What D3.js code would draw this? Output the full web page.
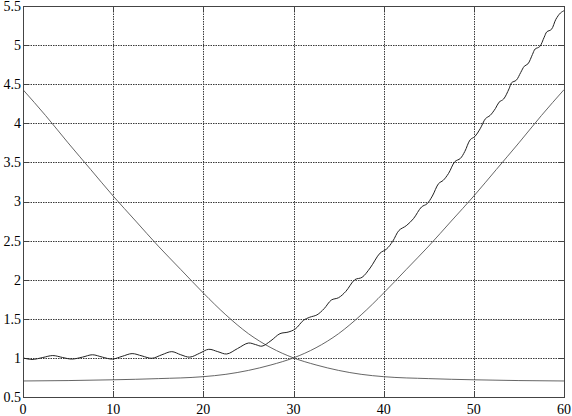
<!DOCTYPE html>
<html>
    <head>
        <meta charset="UTF-8">
        <title>Three curves</title>
        <style>
            body {
                margin: 0;
                background-color: #ffffff;
            }
            svg {
                display: block;
            }
            .grid line {
                stroke: #3a3a3a;
                stroke-width: 1px;
                stroke-dasharray: 1.5,1;
            }
            .frame {
                fill: none;
                stroke: #444;
                stroke-width: 1px;
            }
            .tick-mark {
                stroke: #444;
                stroke-width: 1px;
            }
            .label {
                font-family: 'Liberation Serif', 'Times New Roman', Times, serif;
                font-size: 14px;
                fill: #000;
            }
            .curve {
                fill: none;
                stroke: #555;
                stroke-width: 0.9px;
            }
            .wavy {
                fill: none;
                stroke: #222;
                stroke-width: 1px;
            }
        </style>
    </head>
    <body>
        <div id="chart"></div>
        <script src="https://d3js.org/d3.v7.min.js"></script>
        <script>
            // data
            const xTicks = [0, 10, 20, 30, 40, 50, 60];
            const yTicks = [0.5, 1, 1.5, 2, 2.5, 3, 3.5, 4, 4.5, 5, 5.5];
            const yTickLabels = ["0.5", "1", "1.5", "2", "2.5", "3", "3.5", "4", "4.5", "5", "5.5"];

            // falling curve
            const fallX = [0, 2.5, 5, 7.5, 10, 12.5, 15, 17.5, 20, 22.5, 25, 27.5, 30, 32.5, 35, 37.5, 40, 45, 50, 55, 60];
            const fallY = [4.43, 4.1, 3.75, 3.41, 3.07, 2.75, 2.43, 2.13, 1.83, 1.55, 1.31, 1.13, 1.0, 0.91, 0.84, 0.79, 0.76, 0.735, 0.72, 0.71, 0.705];

            // rising curve
            const riseX = [0, 5, 10, 15, 20, 22.5, 25, 27.5, 30, 32.5, 35, 37.5, 40, 42.5, 45, 47.5, 50, 52.5, 55, 57.5, 60];
            const riseY = [0.705, 0.71, 0.72, 0.735, 0.76, 0.79, 0.84, 0.91, 1.0, 1.13, 1.31, 1.55, 1.83, 2.13, 2.43, 2.75, 3.07, 3.41, 3.75, 4.1, 4.43];

            // wavy curve
            const waveX = [0, 1.0, 2.2, 3.3, 4.4, 5.4, 6.6, 7.7, 8.8, 9.9, 11.0, 12.1, 13.2, 14.3, 15.4, 16.5, 17.5, 18.5,
                19.6, 20.6, 21.6, 22.6, 23.8, 25.0, 25.8, 26.5, 27.5, 28.5, 29.4, 30.2, 31.1, 31.8, 32.6, 33.4, 34.2, 35.0,
                35.8, 36.8, 37.6, 38.5, 39.6, 40.3, 41.0, 41.7, 42.5, 43.3, 44.2, 44.8, 45.4, 46.1, 46.6, 47.2, 47.9, 48.5,
                49.0, 49.6, 50.1, 50.7, 51.3, 51.8, 52.4, 52.8, 53.3, 53.9, 54.2, 54.7, 55.2, 55.6, 56.0, 56.5, 56.8, 57.3,
                57.8, 58.1, 58.6, 59.1, 59.6, 60];
            const waveY = [1.0, 0.98, 1.005, 1.03, 1.005, 0.985, 1.01, 1.04, 1.01, 0.985, 1.02, 1.055, 1.025, 0.995, 1.04, 1.08, 1.04, 1.01,
                1.06, 1.11, 1.08, 1.05, 1.12, 1.19, 1.17, 1.15, 1.22, 1.31, 1.33, 1.37, 1.48, 1.52, 1.55, 1.63, 1.74, 1.77,
                1.85, 2.0, 2.03, 2.15, 2.34, 2.39, 2.49, 2.63, 2.69, 2.78, 2.93, 2.97, 3.07, 3.23, 3.27, 3.36, 3.51, 3.55,
                3.64, 3.79, 3.83, 3.93, 4.06, 4.1, 4.19, 4.27, 4.31, 4.44, 4.52, 4.55, 4.65, 4.73, 4.76, 4.88, 4.95, 4.98,
                5.1, 5.17, 5.2, 5.33, 5.41, 5.44];

            const width = 572;
            const height = 416;
            const margin = {top: 6, right: 8, bottom: 19, left: 23};

            const svg = d3.select("#chart").append("svg")
                .attr("width", width)
                .attr("height", height);

            const x = d3.scaleLinear().domain([0, 60]).range([margin.left, width - margin.right]);
            const y = d3.scaleLinear().domain([0.5, 5.5]).range([height - margin.bottom, margin.top]);

            svg.append("defs").append("clipPath").attr("id", "plot")
                .append("rect")
                .attr("x", x(0)).attr("y", y(5.5))
                .attr("width", x(60) - x(0)).attr("height", y(0.5) - y(5.5));

            // grid
            const grid = svg.append("g").attr("class", "grid");
            grid.selectAll(".vx")
                .data(xTicks.slice(1, -1))
                .enter().append("line")
                .attr("x1", d => Math.round(x(d)) + 0.5)
                .attr("x2", d => Math.round(x(d)) + 0.5)
                .attr("y1", y(5.5))
                .attr("y2", y(0.5));
            grid.selectAll(".hy")
                .data(yTicks.slice(1, -1))
                .enter().append("line")
                .attr("x1", x(0))
                .attr("x2", x(60))
                .attr("y1", d => Math.round(y(d)) + 0.5)
                .attr("y2", d => Math.round(y(d)) + 0.5);

            // inward tick marks
            const tk = 5;
            const ticks = svg.append("g");
            yTicks.forEach(v => {
                const yy = Math.round(y(v)) + 0.5;
                ticks.append("line").attr("class", "tick-mark")
                    .attr("x1", x(0)).attr("x2", x(0) + tk).attr("y1", yy).attr("y2", yy);
                ticks.append("line").attr("class", "tick-mark")
                    .attr("x1", x(60)).attr("x2", x(60) - tk).attr("y1", yy).attr("y2", yy);
            });
            xTicks.forEach(v => {
                const xx = Math.round(x(v)) + 0.5;
                ticks.append("line").attr("class", "tick-mark")
                    .attr("x1", xx).attr("x2", xx).attr("y1", y(0.5)).attr("y2", y(0.5) - tk);
                ticks.append("line").attr("class", "tick-mark")
                    .attr("x1", xx).attr("x2", xx).attr("y1", y(5.5)).attr("y2", y(5.5) + tk);
            });

            // curves
            const curves = svg.append("g").attr("clip-path", "url(#plot)");
            const smooth = d3.line()
                .x(d => x(d[0]))
                .y(d => y(d[1]))
                .curve(d3.curveMonotoneX);
            const wave = d3.line()
                .x(d => x(d[0]))
                .y(d => y(d[1]))
                .curve(d3.curveCatmullRom.alpha(0.5));

            curves.append("path").attr("class", "curve")
                .attr("d", smooth(d3.zip(fallX, fallY)));
            curves.append("path").attr("class", "curve")
                .attr("d", smooth(d3.zip(riseX, riseY)));
            curves.append("path").attr("class", "wavy")
                .attr("d", wave(d3.zip(waveX, waveY)));

            // frame
            svg.append("rect").attr("class", "frame")
                .attr("x", Math.round(x(0)) + 0.5)
                .attr("y", Math.round(y(5.5)) + 0.5)
                .attr("width", Math.round(x(60)) - Math.round(x(0)))
                .attr("height", Math.round(y(0.5)) - Math.round(y(5.5)));

            // labels
            svg.append("g").selectAll("text")
                .data(xTicks)
                .enter().append("text")
                .attr("class", "label")
                .attr("x", d => x(d))
                .attr("y", height - 2)
                .attr("text-anchor", "middle")
                .text(d => d);
            svg.append("g").selectAll("text")
                .data(yTicks)
                .enter().append("text")
                .attr("class", "label")
                .attr("x", x(0) - 2)
                .attr("y", d => y(d))
                .attr("dy", "0.35em")
                .attr("text-anchor", "end")
                .text((d, i) => yTickLabels[i]);
        </script>
    </body>
</html>
